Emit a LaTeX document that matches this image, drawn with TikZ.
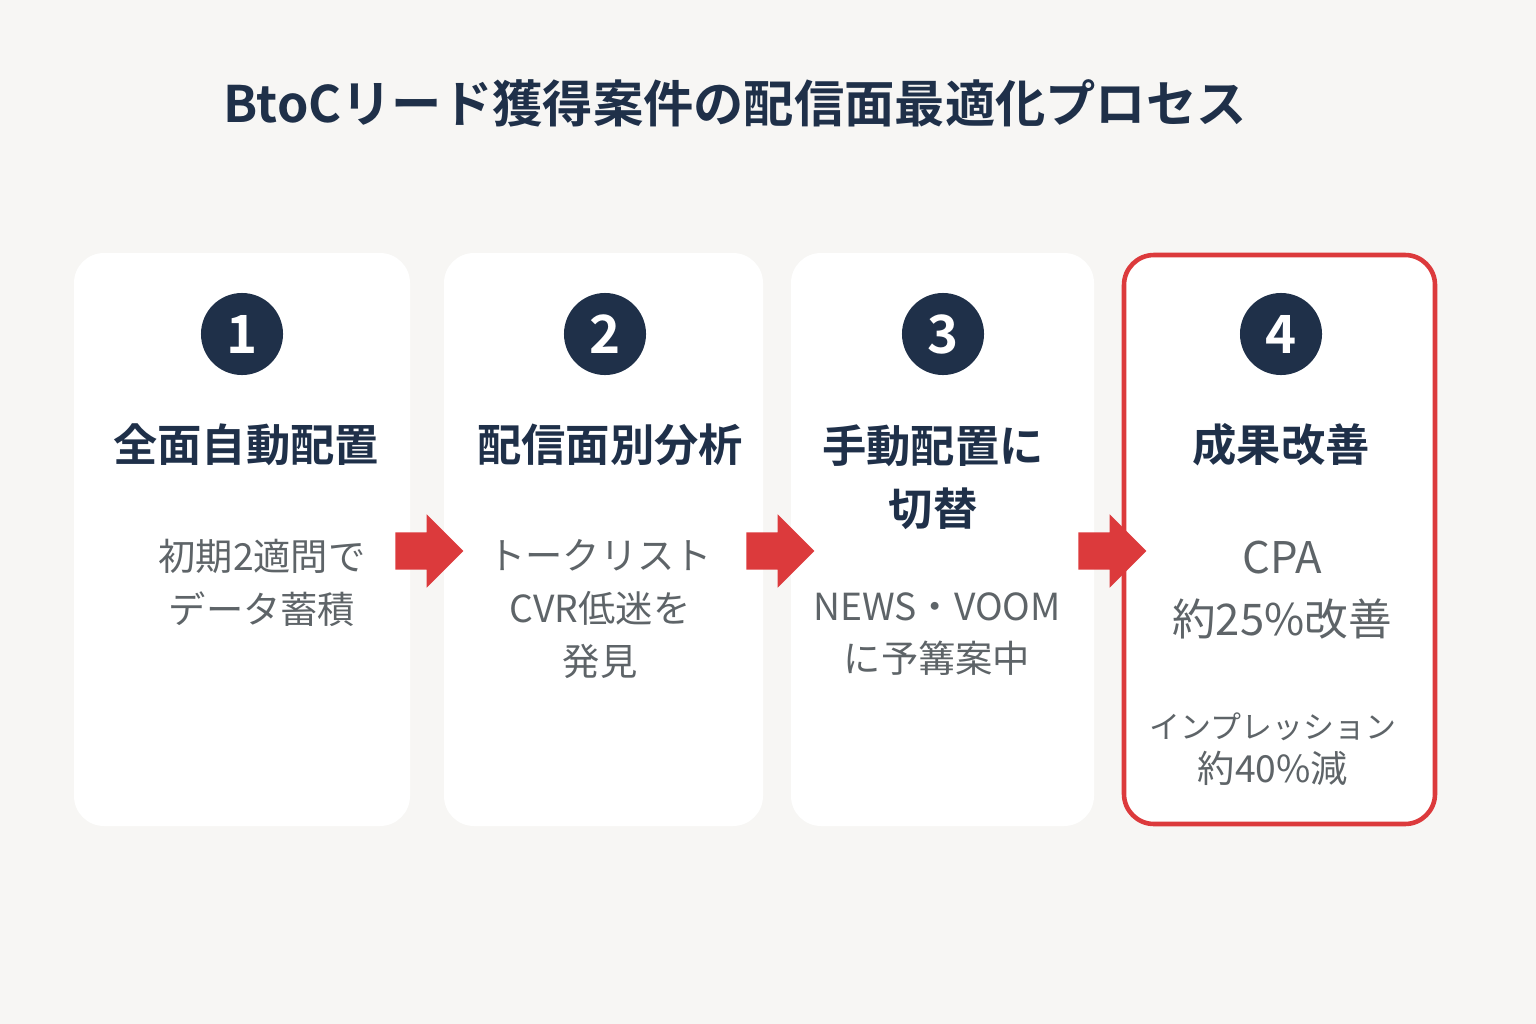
\documentclass[tikz,border=0pt]{standalone}
\usepackage{fontspec}
\setmainfont{Noto Sans CJK JP}
\newfontfamily\cjkbold{Noto Sans CJK JP Bold}
\usetikzlibrary{shapes.arrows}
\definecolor{navy}{HTML}{1F3049}
\definecolor{bodygray}{HTML}{5E6468}
\definecolor{accent}{HTML}{DC3A3C}
\definecolor{paper}{HTML}{F7F6F4}
\tikzset{
  card/.style={fill=white, rounded corners=0.3cm},
  stepdot/.style={circle, fill=navy, text=white, minimum size=0.82cm, inner sep=0pt, font=\cjkbold\fontsize{15}{15}\selectfont},
  head/.style={text=navy, font=\cjkbold\fontsize{12.6}{18}\selectfont, align=center},
  body/.style={text=bodygray, font=\fontsize{10.6}{15}\selectfont, align=center},
  flow/.style={single arrow, fill=accent, minimum height=0.68cm, inner sep=0.18cm, single arrow head extend=0.18cm, single arrow tip angle=90}
}
\begin{document}
\begin{tikzpicture}[x=0.01cm, y=-0.01cm]
    \fill[paper] (0,0) rectangle (1536,1024);
    \useasboundingbox (0,0) rectangle (1536,1024);

    \node[text=navy, font=\cjkbold\fontsize{14.3}{14}\selectfont] (title) at (735,103) {BtoCリード獲得案件の配信面最適化プロセス};

    % cards
    \fill[card] (74,253) rectangle (410,826);
    \fill[card] (444,253) rectangle (763,826);
    \fill[card] (791,253) rectangle (1094,826);
    \draw[card, draw=accent, line width=1.3pt] (1124,255) rectangle (1435,824);

    \node[stepdot] (step1) at (242,334) {1};
    \node[stepdot] (step2) at (605,334) {2};
    \node[stepdot] (step3) at (943,334) {3};
    \node[stepdot] (step4) at (1281,334) {4};

    \node[head] (head1) at (246,445) {全面自動配置};
    \node[head] (head2) at (610,445) {配信面別分析};
    \node[head] (head3) at (933,477) {手動配置に\\切替};
    \node[head] (head4) at (1281,445) {成果改善};

    \node[body] (body1) at (262,583) {初期2適問で\\データ蓄積};
    \node[body] (body2) at (600,609) {トークリスト\\CVR低迷を\\発見};
    \node[body] (body3) at (937,634) {NEWS・VOOM\\に予篝案中};
    \node[body, font=\fontsize{12.4}{17.5}\selectfont] (body4) at (1282,590) {CPA\\約25\%改善};
    \node[body, font=\fontsize{8.8}{12.6}\selectfont] (note4) at (1273,749) {インプレッション\\{\fontsize{10.6}{12}\selectfont 約40\%減}};

    \node[flow] (arrow1) at (420,551) {};
    \node[flow] (arrow2) at (771,551) {};
    \node[flow] (arrow3) at (1103,551) {};
\end{tikzpicture}
\end{document}
